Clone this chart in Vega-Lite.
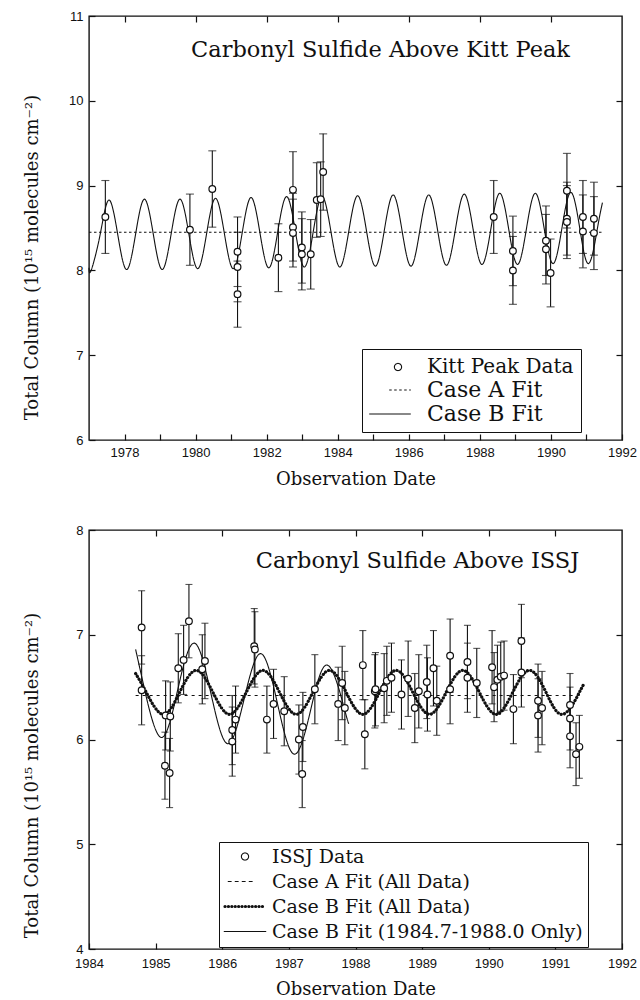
{
  "$schema": "https://vega.github.io/schema/vega-lite/v6.json",
  "padding": {"left": 22, "top": 9, "right": 5, "bottom": 4},
  "spacing": 34,
  "resolve": {"scale": {"strokeDash": "independent"}, "legend": {"strokeDash": "independent"}},
  "config": {
    "font": "DejaVu Serif",
    "view": {"stroke": "#111", "strokeWidth": 1.4},
    "axis": {"domain": false, "grid": false, "tickColor": "#111", "tickWidth": 1.2, "tickSize": -6, "labelPadding": 12, "labelFlush": false, "labelFont": "Liberation Sans", "labelFontSize": 13, "labelColor": "#111", "titleFont": "DejaVu Serif", "titleFontSize": 18, "titleFontWeight": "normal", "titleColor": "#111"},
    "legend": {"strokeColor": "#111", "fillColor": "white", "padding": 7, "symbolSize": 256, "symbolStrokeWidth": 1.1, "symbolStrokeColor": "#111", "symbolFillColor": "white", "labelFont": "DejaVu Serif", "labelColor": "#111", "labelLimit": 500}
  },
  "datasets": {
    "kitt": [
      {"year": 1977.46, "value": 8.63, "err": 0.43},
      {"year": 1979.84, "value": 8.48, "err": 0.42},
      {"year": 1980.47, "value": 8.96, "err": 0.45},
      {"year": 1981.18, "value": 8.22, "err": 0.41},
      {"year": 1981.18, "value": 8.04, "err": 0.41},
      {"year": 1981.18, "value": 7.72, "err": 0.39},
      {"year": 1982.33, "value": 8.15, "err": 0.40},
      {"year": 1982.74, "value": 8.95, "err": 0.45},
      {"year": 1982.74, "value": 8.51, "err": 0.40},
      {"year": 1982.74, "value": 8.44, "err": 0.40},
      {"year": 1982.99, "value": 8.27, "err": 0.42},
      {"year": 1982.99, "value": 8.19, "err": 0.42},
      {"year": 1983.24, "value": 8.19, "err": 0.41},
      {"year": 1983.41, "value": 8.83, "err": 0.44},
      {"year": 1983.52, "value": 8.84, "err": 0.44},
      {"year": 1983.59, "value": 9.16, "err": 0.45},
      {"year": 1988.39, "value": 8.63, "err": 0.43},
      {"year": 1988.93, "value": 8.23, "err": 0.41},
      {"year": 1988.93, "value": 8.00, "err": 0.40},
      {"year": 1989.86, "value": 8.35, "err": 0.41},
      {"year": 1989.86, "value": 8.25, "err": 0.41},
      {"year": 1989.99, "value": 7.97, "err": 0.40},
      {"year": 1990.45, "value": 8.94, "err": 0.44},
      {"year": 1990.45, "value": 8.61, "err": 0.43},
      {"year": 1990.45, "value": 8.57, "err": 0.43},
      {"year": 1990.90, "value": 8.63, "err": 0.43},
      {"year": 1990.90, "value": 8.46, "err": 0.43},
      {"year": 1991.21, "value": 8.61, "err": 0.43},
      {"year": 1991.21, "value": 8.44, "err": 0.43}
    ],
    "kittFit": [
      {"series": "Case A Fit", "year": 1977.0, "value": 8.45},
      {"series": "Case A Fit", "year": 1991.45, "value": 8.45},
      {"series": "Case B Fit", "year": 1977.0, "value": 8.03},
      {"series": "Case B Fit", "year": 1977.06, "value": 8.00},
      {"series": "Case B Fit", "year": 1977.31, "value": 8.415},
      {"series": "Case B Fit", "year": 1977.56, "value": 8.83},
      {"series": "Case B Fit", "year": 1977.81, "value": 8.42},
      {"series": "Case B Fit", "year": 1978.06, "value": 8.01},
      {"series": "Case B Fit", "year": 1978.31, "value": 8.425},
      {"series": "Case B Fit", "year": 1978.56, "value": 8.84},
      {"series": "Case B Fit", "year": 1978.81, "value": 8.425},
      {"series": "Case B Fit", "year": 1979.06, "value": 8.01},
      {"series": "Case B Fit", "year": 1979.31, "value": 8.425},
      {"series": "Case B Fit", "year": 1979.56, "value": 8.84},
      {"series": "Case B Fit", "year": 1979.81, "value": 8.43},
      {"series": "Case B Fit", "year": 1980.06, "value": 8.02},
      {"series": "Case B Fit", "year": 1980.31, "value": 8.435},
      {"series": "Case B Fit", "year": 1980.56, "value": 8.85},
      {"series": "Case B Fit", "year": 1980.81, "value": 8.435},
      {"series": "Case B Fit", "year": 1981.06, "value": 8.02},
      {"series": "Case B Fit", "year": 1981.31, "value": 8.44},
      {"series": "Case B Fit", "year": 1981.56, "value": 8.86},
      {"series": "Case B Fit", "year": 1981.81, "value": 8.445},
      {"series": "Case B Fit", "year": 1982.06, "value": 8.03},
      {"series": "Case B Fit", "year": 1982.31, "value": 8.45},
      {"series": "Case B Fit", "year": 1982.56, "value": 8.87},
      {"series": "Case B Fit", "year": 1982.81, "value": 8.455},
      {"series": "Case B Fit", "year": 1983.06, "value": 8.04},
      {"series": "Case B Fit", "year": 1983.31, "value": 8.455},
      {"series": "Case B Fit", "year": 1983.56, "value": 8.87},
      {"series": "Case B Fit", "year": 1983.81, "value": 8.455},
      {"series": "Case B Fit", "year": 1984.06, "value": 8.04},
      {"series": "Case B Fit", "year": 1984.31, "value": 8.46},
      {"series": "Case B Fit", "year": 1984.56, "value": 8.88},
      {"series": "Case B Fit", "year": 1984.81, "value": 8.465},
      {"series": "Case B Fit", "year": 1985.06, "value": 8.05},
      {"series": "Case B Fit", "year": 1985.31, "value": 8.47},
      {"series": "Case B Fit", "year": 1985.56, "value": 8.89},
      {"series": "Case B Fit", "year": 1985.81, "value": 8.47},
      {"series": "Case B Fit", "year": 1986.06, "value": 8.05},
      {"series": "Case B Fit", "year": 1986.31, "value": 8.47},
      {"series": "Case B Fit", "year": 1986.56, "value": 8.89},
      {"series": "Case B Fit", "year": 1986.81, "value": 8.475},
      {"series": "Case B Fit", "year": 1987.06, "value": 8.06},
      {"series": "Case B Fit", "year": 1987.31, "value": 8.48},
      {"series": "Case B Fit", "year": 1987.56, "value": 8.90},
      {"series": "Case B Fit", "year": 1987.81, "value": 8.485},
      {"series": "Case B Fit", "year": 1988.06, "value": 8.07},
      {"series": "Case B Fit", "year": 1988.31, "value": 8.49},
      {"series": "Case B Fit", "year": 1988.56, "value": 8.91},
      {"series": "Case B Fit", "year": 1988.81, "value": 8.49},
      {"series": "Case B Fit", "year": 1989.06, "value": 8.07},
      {"series": "Case B Fit", "year": 1989.31, "value": 8.49},
      {"series": "Case B Fit", "year": 1989.56, "value": 8.91},
      {"series": "Case B Fit", "year": 1989.81, "value": 8.495},
      {"series": "Case B Fit", "year": 1990.06, "value": 8.08},
      {"series": "Case B Fit", "year": 1990.31, "value": 8.50},
      {"series": "Case B Fit", "year": 1990.56, "value": 8.92},
      {"series": "Case B Fit", "year": 1990.81, "value": 8.50},
      {"series": "Case B Fit", "year": 1991.06, "value": 8.08},
      {"series": "Case B Fit", "year": 1991.31, "value": 8.50},
      {"series": "Case B Fit", "year": 1991.45, "value": 8.80}
    ],
    "issj": [
      {"year": 1984.79, "value": 7.07, "err": 0.35},
      {"year": 1984.79, "value": 6.47, "err": 0.33},
      {"year": 1985.15, "value": 6.23, "err": 0.33},
      {"year": 1985.14, "value": 5.75, "err": 0.32},
      {"year": 1985.21, "value": 5.68, "err": 0.33},
      {"year": 1985.22, "value": 6.22, "err": 0.33},
      {"year": 1985.34, "value": 6.68, "err": 0.33},
      {"year": 1985.42, "value": 6.76, "err": 0.33},
      {"year": 1985.50, "value": 7.13, "err": 0.35},
      {"year": 1985.70, "value": 6.67, "err": 0.33},
      {"year": 1985.74, "value": 6.75, "err": 0.36},
      {"year": 1986.15, "value": 6.09, "err": 0.33},
      {"year": 1986.15, "value": 5.98, "err": 0.33},
      {"year": 1986.20, "value": 6.19, "err": 0.32},
      {"year": 1986.48, "value": 6.89, "err": 0.36},
      {"year": 1986.49, "value": 6.86, "err": 0.36},
      {"year": 1986.67, "value": 6.19, "err": 0.32},
      {"year": 1986.77, "value": 6.34, "err": 0.33},
      {"year": 1986.93, "value": 6.27, "err": 0.33},
      {"year": 1987.15, "value": 6.00, "err": 0.33},
      {"year": 1987.21, "value": 6.12, "err": 0.33},
      {"year": 1987.20, "value": 5.67, "err": 0.32},
      {"year": 1987.39, "value": 6.48, "err": 0.33},
      {"year": 1987.74, "value": 6.34, "err": 0.35},
      {"year": 1987.80, "value": 6.54, "err": 0.35},
      {"year": 1987.84, "value": 6.30, "err": 0.35},
      {"year": 1988.11, "value": 6.71, "err": 0.33},
      {"year": 1988.14, "value": 6.05, "err": 0.33},
      {"year": 1988.29, "value": 6.46, "err": 0.35},
      {"year": 1988.30, "value": 6.48, "err": 0.35},
      {"year": 1988.43, "value": 6.49, "err": 0.33},
      {"year": 1988.47, "value": 6.56, "err": 0.33},
      {"year": 1988.54, "value": 6.59, "err": 0.33},
      {"year": 1988.69, "value": 6.43, "err": 0.33},
      {"year": 1988.79, "value": 6.58, "err": 0.36},
      {"year": 1988.89, "value": 6.30, "err": 0.33},
      {"year": 1988.95, "value": 6.46, "err": 0.35},
      {"year": 1989.07, "value": 6.55, "err": 0.35},
      {"year": 1989.08, "value": 6.43, "err": 0.35},
      {"year": 1989.17, "value": 6.68, "err": 0.36},
      {"year": 1989.22, "value": 6.37, "err": 0.33},
      {"year": 1989.42, "value": 6.80, "err": 0.35},
      {"year": 1989.42, "value": 6.48, "err": 0.33},
      {"year": 1989.68, "value": 6.74, "err": 0.35},
      {"year": 1989.68, "value": 6.59, "err": 0.33},
      {"year": 1989.82, "value": 6.54, "err": 0.33},
      {"year": 1990.05, "value": 6.69, "err": 0.35},
      {"year": 1990.08, "value": 6.50, "err": 0.33},
      {"year": 1990.13, "value": 6.57, "err": 0.33},
      {"year": 1990.18, "value": 6.60, "err": 0.33},
      {"year": 1990.23, "value": 6.61, "err": 0.33},
      {"year": 1990.37, "value": 6.29, "err": 0.33},
      {"year": 1990.49, "value": 6.94, "err": 0.35},
      {"year": 1990.49, "value": 6.64, "err": 0.33},
      {"year": 1990.74, "value": 6.37, "err": 0.35},
      {"year": 1990.74, "value": 6.23, "err": 0.35},
      {"year": 1990.80, "value": 6.30, "err": 0.35},
      {"year": 1991.22, "value": 6.33, "err": 0.30},
      {"year": 1991.22, "value": 6.20, "err": 0.30},
      {"year": 1991.22, "value": 6.03, "err": 0.30},
      {"year": 1991.31, "value": 5.86, "err": 0.30},
      {"year": 1991.36, "value": 5.93, "err": 0.30}
    ],
    "issjFit": [
      {"series": "Case A Fit (All Data)", "year": 1984.70, "value": 6.42},
      {"series": "Case A Fit (All Data)", "year": 1991.40, "value": 6.42},
      {"series": "Case B Fit (All Data)", "year": 1984.70, "value": 6.63},
      {"series": "Case B Fit (All Data)", "year": 1984.86, "value": 6.45},
      {"series": "Case B Fit (All Data)", "year": 1985.11, "value": 6.24},
      {"series": "Case B Fit (All Data)", "year": 1985.36, "value": 6.45},
      {"series": "Case B Fit (All Data)", "year": 1985.61, "value": 6.66},
      {"series": "Case B Fit (All Data)", "year": 1985.86, "value": 6.45},
      {"series": "Case B Fit (All Data)", "year": 1986.11, "value": 6.24},
      {"series": "Case B Fit (All Data)", "year": 1986.36, "value": 6.45},
      {"series": "Case B Fit (All Data)", "year": 1986.61, "value": 6.66},
      {"series": "Case B Fit (All Data)", "year": 1986.86, "value": 6.45},
      {"series": "Case B Fit (All Data)", "year": 1987.11, "value": 6.24},
      {"series": "Case B Fit (All Data)", "year": 1987.36, "value": 6.45},
      {"series": "Case B Fit (All Data)", "year": 1987.61, "value": 6.66},
      {"series": "Case B Fit (All Data)", "year": 1987.86, "value": 6.45},
      {"series": "Case B Fit (All Data)", "year": 1988.11, "value": 6.24},
      {"series": "Case B Fit (All Data)", "year": 1988.36, "value": 6.45},
      {"series": "Case B Fit (All Data)", "year": 1988.61, "value": 6.66},
      {"series": "Case B Fit (All Data)", "year": 1988.86, "value": 6.45},
      {"series": "Case B Fit (All Data)", "year": 1989.11, "value": 6.24},
      {"series": "Case B Fit (All Data)", "year": 1989.36, "value": 6.45},
      {"series": "Case B Fit (All Data)", "year": 1989.61, "value": 6.66},
      {"series": "Case B Fit (All Data)", "year": 1989.86, "value": 6.45},
      {"series": "Case B Fit (All Data)", "year": 1990.11, "value": 6.24},
      {"series": "Case B Fit (All Data)", "year": 1990.36, "value": 6.45},
      {"series": "Case B Fit (All Data)", "year": 1990.61, "value": 6.66},
      {"series": "Case B Fit (All Data)", "year": 1990.86, "value": 6.45},
      {"series": "Case B Fit (All Data)", "year": 1991.11, "value": 6.24},
      {"series": "Case B Fit (All Data)", "year": 1991.36, "value": 6.45},
      {"series": "Case B Fit (All Data)", "year": 1991.43, "value": 6.53},
      {"series": "Case B Fit (1984.7-1988.0 Only)", "year": 1984.70, "value": 6.86},
      {"series": "Case B Fit (1984.7-1988.0 Only)", "year": 1984.83, "value": 6.49},
      {"series": "Case B Fit (1984.7-1988.0 Only)", "year": 1985.08, "value": 6.02},
      {"series": "Case B Fit (1984.7-1988.0 Only)", "year": 1985.33, "value": 6.47},
      {"series": "Case B Fit (1984.7-1988.0 Only)", "year": 1985.58, "value": 6.92},
      {"series": "Case B Fit (1984.7-1988.0 Only)", "year": 1985.83, "value": 6.44},
      {"series": "Case B Fit (1984.7-1988.0 Only)", "year": 1986.08, "value": 5.96},
      {"series": "Case B Fit (1984.7-1988.0 Only)", "year": 1986.33, "value": 6.39},
      {"series": "Case B Fit (1984.7-1988.0 Only)", "year": 1986.58, "value": 6.82},
      {"series": "Case B Fit (1984.7-1988.0 Only)", "year": 1986.83, "value": 6.34},
      {"series": "Case B Fit (1984.7-1988.0 Only)", "year": 1987.08, "value": 5.86},
      {"series": "Case B Fit (1984.7-1988.0 Only)", "year": 1987.33, "value": 6.29},
      {"series": "Case B Fit (1984.7-1988.0 Only)", "year": 1987.58, "value": 6.71},
      {"series": "Case B Fit (1984.7-1988.0 Only)", "year": 1987.83, "value": 6.30},
      {"series": "Case B Fit (1984.7-1988.0 Only)", "year": 1987.90, "value": 6.15}
    ]
  },
  "vconcat": [
    {
      "width": 533,
      "height": 424,
      "title": {"text": "Carbonyl Sulfide Above Kitt Peak", "anchor": "middle", "dx": 25, "dy": 69, "offset": 0, "baseline": "alphabetic", "font": "DejaVu Serif", "fontSize": 22.5, "fontWeight": "normal", "color": "#111"},
      "resolve": {"axis": {"x": "independent", "y": "independent"}},
      "layer": [
        {
          "data": {"name": "kittFit"},
          "mark": {"type": "line", "color": "#111", "strokeWidth": 1.1, "interpolate": "natural"},
          "encoding": {
            "x": {"field": "year", "type": "quantitative", "scale": {"domain": [1977, 1992], "nice": false, "zero": false},
              "axis": {"orient": "bottom", "values": [1978, 1979, 1980, 1981, 1982, 1983, 1984, 1985, 1986, 1987, 1988, 1989, 1990, 1991, 1992], "format": "d", "labelExpr": "datum.value % 2 === 0 ? datum.label : ''", "title": "Observation Date", "titlePadding": 11,
                "encode": {"ticks": {"update": {"y2": {"signal": "datum.value % 2 === 0 ? -6 : -3"}}}}}},
            "y": {"field": "value", "type": "quantitative", "scale": {"domain": [6, 11], "nice": false, "zero": false},
              "axis": {"orient": "left", "values": [6, 7, 8, 9, 10, 11], "title": "Total Column (10¹⁵ molecules cm⁻²)", "titleX": -57, "titleY": 241, "titleBaseline": "middle"}},
            "strokeDash": {"field": "series", "type": "nominal",
              "scale": {"domain": ["Kitt Peak Data", "Case A Fit", "Case B Fit"], "range": [[1, 0], [2.5, 2.5], [1, 0]]},
              "legend": {"title": null, "orient": "none", "legendX": 273, "legendY": 333, "padding": 7, "rowPadding": 2, "symbolOffset": 10, "labelOffset": 26, "labelFontSize": 22,
                "encode": {
                  "symbols": {"update": {"shape": {"signal": "datum.value === 'Kitt Peak Data' ? 'M1.45,0A0.45,0.45,0,1,1,0.55,0A0.45,0.45,0,1,1,1.45,0Z' : datum.value === 'Case A Fit' ? 'M-0.1,0H2.6' : 'M-2.6,0H2.6'"}, "stroke": {"value": "#111"}, "fill": {"value": "white"}}},
                  "labels": {"update": {"fontSize": {"signal": "datum.value === 'Kitt Peak Data' ? 20 : 22"}}}
                }}}
          }
        },
        {
          "data": {"name": "kitt"},
          "mark": {"type": "errorbar", "color": "#111", "thickness": 1.1, "ticks": {"size": 8}},
          "encoding": {
            "x": {"field": "year", "type": "quantitative", "scale": {"domain": [1977, 1992], "nice": false, "zero": false}, "axis": null},
            "y": {"field": "value", "type": "quantitative", "scale": {"domain": [6, 11], "nice": false, "zero": false}, "axis": null},
            "yError": {"field": "err"}
          }
        },
        {
          "data": {"name": "kitt"},
          "mark": {"type": "point", "shape": "circle", "filled": true, "fill": "white", "stroke": "#111", "strokeWidth": 1.2, "size": 45, "opacity": 1},
          "encoding": {
            "x": {"field": "year", "type": "quantitative", "scale": {"domain": [1977, 1992], "nice": false, "zero": false},
              "axis": {"orient": "top", "values": [1978, 1980, 1982, 1984, 1986, 1988, 1990], "labels": false, "title": null}},
            "y": {"field": "value", "type": "quantitative", "scale": {"domain": [6, 11], "nice": false, "zero": false},
              "axis": {"orient": "right", "values": [7, 8, 9, 10], "labels": false, "title": null}}
          }
        }
      ]
    },
    {
      "width": 533,
      "height": 419,
      "title": {"text": "Carbonyl Sulfide Above ISSJ", "anchor": "middle", "dx": 62, "dy": 66, "offset": 0, "baseline": "alphabetic", "font": "DejaVu Serif", "fontSize": 22.5, "fontWeight": "normal", "color": "#111"},
      "resolve": {"axis": {"x": "independent", "y": "independent"}},
      "layer": [
        {
          "data": {"name": "issjFit"},
          "transform": [{"filter": {"field": "series", "equal": "Case A Fit (All Data)"}}],
          "mark": {"type": "line", "color": "#111", "strokeWidth": 1, "interpolate": "natural"},
          "encoding": {
            "x": {"field": "year", "type": "quantitative", "scale": {"domain": [1984, 1992], "nice": false, "zero": false},
              "axis": {"orient": "bottom", "values": [1984, 1985, 1986, 1987, 1988, 1989, 1990, 1991, 1992], "format": "d", "labelPadding": 14, "title": "Observation Date", "titlePadding": 10}},
            "y": {"field": "value", "type": "quantitative", "scale": {"domain": [4, 8], "nice": false, "zero": false},
              "axis": {"orient": "left", "values": [4, 5, 6, 7, 8], "title": "Total Column (10¹⁵ molecules cm⁻²)", "titleX": -57, "titleY": 245, "titleBaseline": "middle"}},
            "strokeDash": {"field": "series", "type": "nominal",
              "scale": {"domain": ["ISSJ Data", "Case A Fit (All Data)", "Case B Fit (All Data)", "Case B Fit (1984.7-1988.0 Only)"], "range": [[1, 0], [3, 4], [0.1, 3.3], [1, 0]]},
              "legend": {"title": null, "orient": "none", "legendX": 130, "legendY": 312, "padding": 5, "rowPadding": 5, "symbolOffset": 11.5, "labelOffset": 17.5, "labelFontSize": 19,
                "encode": {"symbols": {"update": {"shape": {"signal": "datum.value === 'ISSJ Data' ? 'M0.45,0A0.45,0.45,0,1,1,-0.45,0A0.45,0.45,0,1,1,0.45,0Z' : datum.value === 'Case A Fit (All Data)' ? 'M-2.1,0H1.1' : datum.value === 'Case B Fit (All Data)' ? 'M-2.5,0H2.4' : 'M-2.6,0H2.6'"}, "strokeWidth": {"signal": "datum.value === 'Case B Fit (All Data)' ? 3.2 : 1.1"}, "strokeCap": {"value": "round"}, "stroke": {"value": "#111"}, "fill": {"value": "white"}}}}}}
          }
        },
        {
          "data": {"name": "issjFit"},
          "transform": [{"filter": {"field": "series", "equal": "Case B Fit (All Data)"}}],
          "mark": {"type": "line", "color": "#111", "strokeWidth": 3.2, "strokeCap": "round", "interpolate": "natural"},
          "encoding": {
            "x": {"field": "year", "type": "quantitative", "scale": {"domain": [1984, 1992], "nice": false, "zero": false}, "axis": null},
            "y": {"field": "value", "type": "quantitative", "scale": {"domain": [4, 8], "nice": false, "zero": false}, "axis": null},
            "strokeDash": {"field": "series", "type": "nominal"}
          }
        },
        {
          "data": {"name": "issjFit"},
          "transform": [{"filter": {"field": "series", "equal": "Case B Fit (1984.7-1988.0 Only)"}}],
          "mark": {"type": "line", "color": "#111", "strokeWidth": 1.1, "interpolate": "natural"},
          "encoding": {
            "x": {"field": "year", "type": "quantitative", "scale": {"domain": [1984, 1992], "nice": false, "zero": false}, "axis": null},
            "y": {"field": "value", "type": "quantitative", "scale": {"domain": [4, 8], "nice": false, "zero": false}, "axis": null},
            "strokeDash": {"field": "series", "type": "nominal"}
          }
        },
        {
          "data": {"name": "issj"},
          "mark": {"type": "errorbar", "color": "#111", "thickness": 1.1, "ticks": {"size": 7}},
          "encoding": {
            "x": {"field": "year", "type": "quantitative", "scale": {"domain": [1984, 1992], "nice": false, "zero": false}, "axis": null},
            "y": {"field": "value", "type": "quantitative", "scale": {"domain": [4, 8], "nice": false, "zero": false}, "axis": null},
            "yError": {"field": "err"}
          }
        },
        {
          "data": {"name": "issj"},
          "mark": {"type": "point", "shape": "circle", "filled": true, "fill": "white", "stroke": "#111", "strokeWidth": 1.2, "size": 45, "opacity": 1},
          "encoding": {
            "x": {"field": "year", "type": "quantitative", "scale": {"domain": [1984, 1992], "nice": false, "zero": false},
              "axis": {"orient": "top", "values": [1985, 1986, 1987, 1988, 1989, 1990, 1991], "labels": false, "title": null}},
            "y": {"field": "value", "type": "quantitative", "scale": {"domain": [4, 8], "nice": false, "zero": false},
              "axis": {"orient": "right", "values": [5, 6, 7], "labels": false, "title": null}}
          }
        }
      ]
    }
  ]
}
